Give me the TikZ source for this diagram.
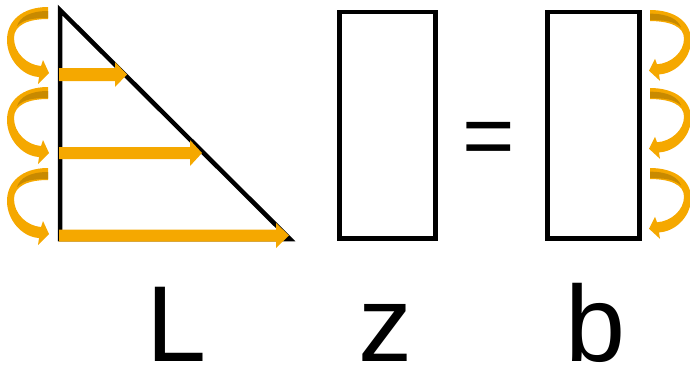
\documentclass[tikz,border=0pt]{standalone}
\usepackage{fontspec}
\setmainfont{Liberation Sans}
\definecolor{amber}{RGB}{245,168,0}
\definecolor{amberdark}{RGB}{200,138,0}
\tikzset{
  outline/.style={draw=black, line width=4.5pt, line join=miter},
  hbar/.style={fill=amber, draw=none},
  bigletter/.style={inner sep=0pt, anchor=base, font=\fontsize{108}{108}\selectfont},
  curlarrow/.pic={
    \fill[amber] (48,0) .. controls (22,0) and (7,14) .. (7,33)
      .. controls (7,52) and (22,69) .. (39,70) -- (38,77) -- (49,66) -- (43,53) -- (41,59)
      .. controls (27,58) and (14,46) .. (14,31)
      .. controls (14,18) and (28,12) .. (48,12) -- cycle;
    \fill[amberdark] (48,4) .. controls (30,4) and (20,10) .. (17,19)
      .. controls (24,12) and (34,11) .. (48,11) -- cycle;
  }
}
\begin{document}
\begin{tikzpicture}[x=1pt, y=-1pt]
\useasboundingbox (0,0) rectangle (690,365);
% triangle L
\draw[outline] (60,10) -- (60,239) -- (290,239) -- cycle;
% horizontal arrows
\fill[hbar] (59,68) -- (115,68) -- (115,62) -- (127,74.5) -- (115,87) -- (115,81) -- (59,81) -- cycle;
\fill[hbar] (59,147) -- (190,147) -- (190,140) -- (202,153) -- (190,166) -- (190,159) -- (59,159) -- cycle;
\fill[hbar] (59,229.5) -- (276,229.5) -- (276,223) -- (289,235.5) -- (276,248) -- (276,241.5) -- (59,241.5) -- cycle;
% left curved arrows
\pic[shift={(0,7)}] {curlarrow};
\pic[shift={(0,87)}] {curlarrow};
\pic[shift={(0,168)}] {curlarrow};
% rectangles
\draw[outline] (339.5,12) rectangle (435.5,238.5);
\draw[outline] (547.5,12) rectangle (639.5,238.5);
% right curved arrows
\pic[shift={(698,10)}, xscale=-1, yscale=0.92] {curlarrow};
\pic[shift={(698,88)}, xscale=-1, yscale=0.92] {curlarrow};
\pic[shift={(698,168)}, xscale=-1, yscale=0.92] {curlarrow};
% equals and letters
\node[inner sep=0pt, anchor=base, font=\fontsize{90}{90}\selectfont] (eq) at (489,166) {=};
\node[bigletter] (L) at (177,361) {L};
\node[bigletter] (z) at (385,361) {z};
\node[bigletter] (b) at (596,361) {b};
\end{tikzpicture}
\end{document}
